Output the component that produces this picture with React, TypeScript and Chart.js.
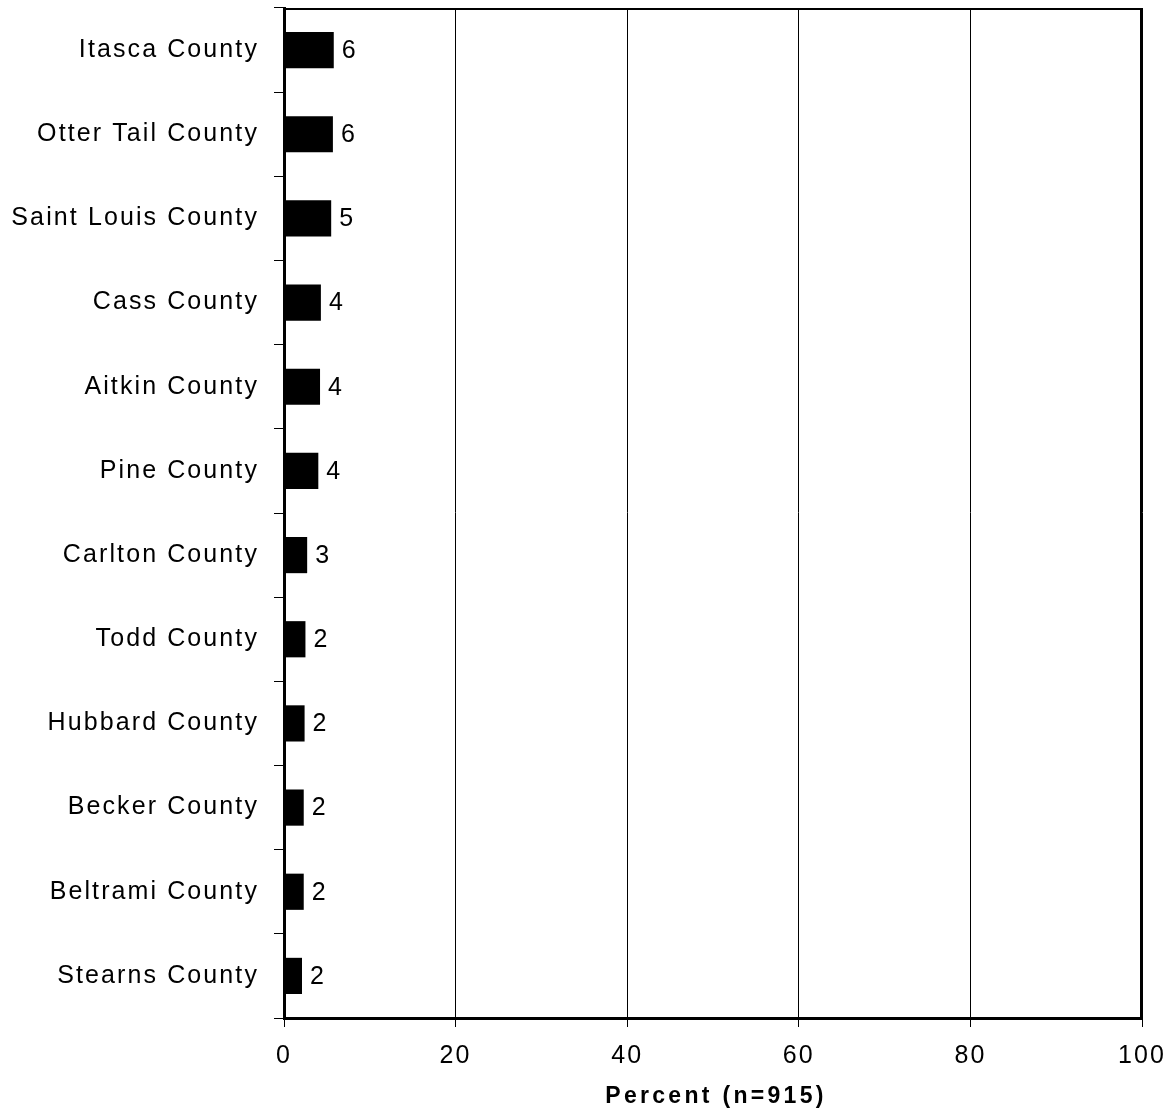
import React, { useEffect, useRef } from "react";
import { Chart, registerables } from "chart.js";

Chart.register(...registerables);

const categories = [
  "Itasca County",
  "Otter Tail County",
  "Saint Louis County",
  "Cass County",
  "Aitkin County",
  "Pine County",
  "Carlton County",
  "Todd County",
  "Hubbard County",
  "Becker County",
  "Beltrami County",
  "Stearns County",
];
const percentValues = [5.8, 5.7, 5.5, 4.3, 4.2, 4.0, 2.7, 2.5, 2.4, 2.3, 2.3, 2.1];
const valueLabels = ["6", "6", "5", "4", "4", "4", "3", "2", "2", "2", "2", "2"];
const xTicks = [0, 20, 40, 60, 80, 100];
const xTitle = "Percent (n=915)";

const FONT = "'Liberation Sans', Arial, sans-serif";

export default function App() {
  const ref = useRef<HTMLCanvasElement | null>(null);
  useEffect(() => {
    const canvas = ref.current;
    if (!canvas) return;
    const spacingPlugin = {
      id: "spacing",
      beforeDraw(chart: any) {
        (chart.ctx as any).letterSpacing = "2.1px";
      },
      afterDraw(chart: any) {
        const ctx = chart.ctx;
        const a = chart.chartArea;
        ctx.save();
        ctx.strokeStyle = "#000";
        ctx.lineWidth = 2;
        ctx.beginPath();
        ctx.moveTo(a.left, a.top + 1);
        ctx.lineTo(a.right - 1, a.top + 1);
        ctx.lineTo(a.right - 1, a.bottom);
        ctx.stroke();
        (ctx as any).letterSpacing = "3.3px";
        ctx.font = `bold 23px ${FONT}`;
        ctx.fillStyle = "#000";
        ctx.textAlign = "center";
        ctx.textBaseline = "alphabetic";
        ctx.fillText(xTitle, (a.left + a.right) / 2 + 3, 1103);
        ctx.restore();
      },
      afterDatasetsDraw(chart: any) {
        const ctx = chart.ctx;
        const meta = chart.getDatasetMeta(0);
        ctx.save();
        (ctx as any).letterSpacing = "0px";
        ctx.font = `25px ${FONT}`;
        ctx.fillStyle = "#000";
        ctx.textAlign = "left";
        ctx.textBaseline = "middle";
        meta.data.forEach((bar: any, i: number) => {
          ctx.fillText(valueLabels[i], bar.x + 8, bar.y + 1);
        });
        ctx.restore();
      },
    };
    const chart = new Chart(canvas, {
      type: "bar",
      data: {
        labels: categories,
        datasets: [
          {
            data: percentValues,
            backgroundColor: "#000",
            borderWidth: 0,
            barPercentage: 0.43,
            categoryPercentage: 1,
          },
        ],
      },
      options: {
        indexAxis: "y",
        responsive: false,
        animation: false,
        events: [],
        layout: { padding: { top: 8, right: 31, left: 0, bottom: 0 } },
        plugins: {
          legend: { display: false },
          tooltip: { enabled: false },
          title: { display: false },
        },
        scales: {
          x: {
            type: "linear",
            min: 0,
            max: 100,
            afterBuildTicks(scale: any) {
              scale.ticks = xTicks.map((v) => ({ value: v }));
            },
            afterFit(scale: any) {
              scale.height = 93;
              scale.paddingLeft = 0;
              scale.paddingRight = 0;
            },
            ticks: {
              color: "#000",
              font: { family: FONT, size: 25 },
              padding: 14,
              maxRotation: 0,
            },
            grid: {
              color: "#000",
              lineWidth: 1,
              tickLength: 9,
              drawOnChartArea: true,
            },
            border: { color: "#000", width: 3 },
          },
          y: {
            type: "category",
            afterFit(scale: any) {
              scale.width = 284;
              scale.paddingTop = 0;
              scale.paddingBottom = 0;
            },
            ticks: {
              color: "#000",
              font: { family: FONT, size: 25 },
              padding: 15,
            },
            grid: {
              color: "#000",
              lineWidth: 1,
              tickLength: 10,
              drawOnChartArea: false,
              offset: true,
            },
            border: { color: "#000", width: 3 },
          },
        },
      },
      plugins: [spacingPlugin],
    } as any);
    return () => chart.destroy();
  }, []);
  return (
    <div style={{ position: "absolute", left: 0, top: 0, width: 1173, height: 1111, background: "#fff" }}>
      <canvas ref={ref} width={1173} height={1111} />
    </div>
  );
}
